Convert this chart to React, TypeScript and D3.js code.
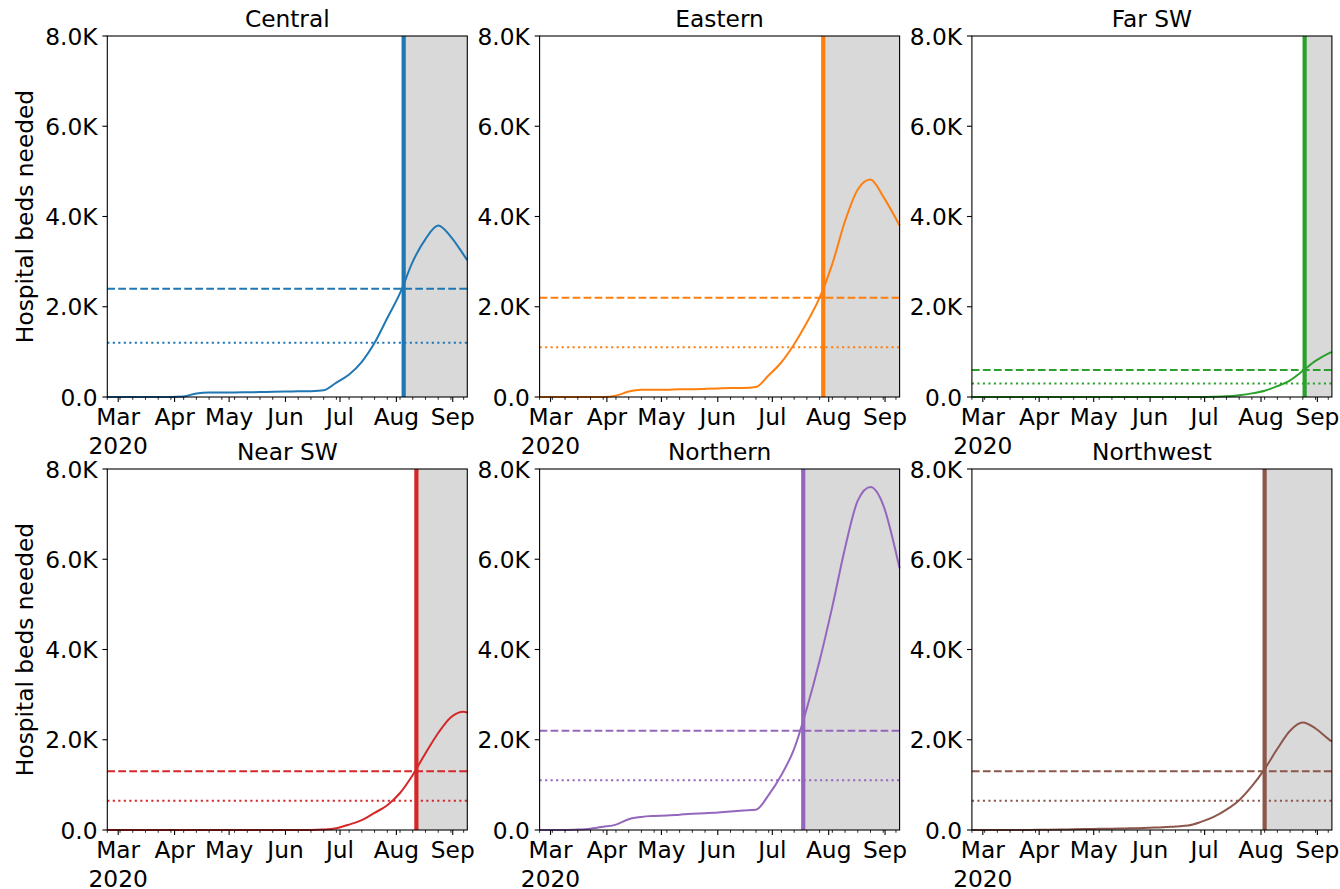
import React from 'react';
import * as d3 from 'd3';

const regions = ['Central', 'Eastern', 'Far SW', 'Near SW', 'Northern', 'Northwest'];
const colors = ['#1f77b4', '#ff7f0e', '#2ca02c', '#d62728', '#9467bd', '#8c564b'];

// weekly samples (Mondays) plus the last day of the series
const dates = [
  '2020-02-24', '2020-03-02', '2020-03-09', '2020-03-16', '2020-03-23', '2020-03-30',
  '2020-04-06', '2020-04-13', '2020-04-20', '2020-04-27', '2020-05-04', '2020-05-11',
  '2020-05-18', '2020-05-25', '2020-06-01', '2020-06-08', '2020-06-15', '2020-06-22',
  '2020-06-29', '2020-07-06', '2020-07-13', '2020-07-20', '2020-07-27', '2020-08-03',
  '2020-08-10', '2020-08-17', '2020-08-24', '2020-08-31', '2020-09-07', '2020-09-09',
];

const central = [0, 0, 0, 0, 0, 0, 10, 80, 100, 100, 100, 105, 110, 115, 120, 125, 130, 150, 320, 500, 780, 1200, 1750, 2300, 3000, 3500, 3800, 3550, 3150, 3030];
const eastern = [0, 0, 0, 0, 0, 0, 30, 120, 160, 160, 160, 170, 170, 180, 190, 200, 200, 220, 480, 770, 1170, 1650, 2200, 2950, 3900, 4600, 4820, 4440, 3950, 3800];
const farSW = [0, 0, 0, 0, 0, 0, 0, 0, 0, 0, 0, 0, 0, 0, 0, 0, 0, 0, 0, 5, 15, 40, 80, 140, 240, 370, 580, 800, 960, 1000];
const nearSW = [0, 0, 0, 0, 0, 0, 0, 0, 0, 0, 0, 0, 0, 0, 0, 0, 0, 10, 40, 120, 220, 380, 550, 820, 1220, 1700, 2150, 2500, 2620, 2600];
const northern = [0, 0, 0, 10, 30, 70, 120, 240, 290, 310, 320, 340, 360, 370, 390, 410, 430, 450, 780, 1220, 1800, 2700, 3750, 4950, 6250, 7300, 7600, 7200, 6150, 5800];
const northwest = [0, 0, 0, 0, 0, 3, 5, 10, 15, 20, 25, 30, 35, 40, 50, 60, 80, 100, 180, 290, 450, 660, 970, 1350, 1800, 2200, 2380, 2250, 2020, 1960];

const series = [central, eastern, farSW, nearSW, northern, northwest];

const capacity = [2400, 2200, 600, 1300, 2200, 1300];
const halfCapacity = [1200, 1100, 300, 650, 1100, 650];
const cutoffDates = ['2020-08-05', '2020-07-29', '2020-08-25', '2020-08-12', '2020-07-18', '2020-08-03'];

const monthTicks = ['2020-03-01', '2020-04-01', '2020-05-01', '2020-06-01', '2020-07-01', '2020-08-01', '2020-09-01'];
const monthLabels = ['Mar', 'Apr', 'May', 'Jun', 'Jul', 'Aug', 'Sep'];
const yTicks = [0, 2000, 4000, 6000, 8000];
const yTickLabels = ['0.0', '2.0K', '4.0K', '6.0K', '8.0K'];

const W = 1340;
const H = 889;
const panelW = 360;
const panelH = 361;
const lefts = [107.3, 539.6, 971.9];
const tops = [36, 469];
const FONT = "'DejaVu Sans', sans-serif";
const FS = 23.3;

const parse = d3.utcParse('%Y-%m-%d');

function Panel({ i }: { i: number }) {
  const col = i % 3;
  const row = Math.floor(i / 3);
  const x0 = lefts[col];
  const y0 = tops[row];
  const start = parse(dates[0]) as Date;
  const end = parse(dates[dates.length - 1]) as Date;

  const x = d3.scaleUtc().domain([start, end]).range([x0, x0 + panelW]);
  const y = d3.scaleLinear().domain([0, 8000]).range([y0 + panelH, y0]);

  const pts = dates.map((d, k) => [parse(d) as Date, series[i][k]] as [Date, number]);
  const line = d3.line<[Date, number]>()
    .x(d => x(d[0]))
    .y(d => y(d[1]))
    .curve(d3.curveMonotoneX);

  const color = colors[i];
  const cut = x(parse(cutoffDates[i]) as Date);
  const bottom = y0 + panelH;

  const majors = monthTicks.map(m => (parse(m) as Date).getTime());
  const minors = d3.utcMonday.range(start, d3.utcDay.offset(end, 1))
    .filter(d => !majors.includes(d.getTime()));

  return (
    <g>
      <rect x={cut} y={y0} width={x0 + panelW - cut} height={panelH} fill="#d9d9d9" />
      <path d={line(pts) || ''} fill="none" stroke={color} strokeWidth={2} />
      <line x1={x0} x2={x0 + panelW} y1={y(capacity[i])} y2={y(capacity[i])}
        stroke={color} strokeWidth={2} strokeDasharray="7.7,3.3" />
      <line x1={x0} x2={x0 + panelW} y1={y(halfCapacity[i])} y2={y(halfCapacity[i])}
        stroke={color} strokeWidth={2} strokeDasharray="2.1,3.4" />
      <line x1={cut} x2={cut} y1={y0} y2={bottom} stroke={color} strokeWidth={4.2} />
      <rect x={x0} y={y0} width={panelW} height={panelH} fill="none" stroke="#000" strokeWidth={1.1} />

      {yTicks.map((t, k) => (
        <g key={'y' + k}>
          <line x1={x0 - 4.9} x2={x0} y1={y(t)} y2={y(t)} stroke="#000" strokeWidth={1.1} />
          <text x={x0 - 9.8} y={y(t) + 8.6} textAnchor="end" fontSize={FS} fontFamily={FONT} fill="#000">
            {yTickLabels[k]}
          </text>
        </g>
      ))}

      {minors.map((d, k) => (
        <line key={'m' + k} x1={x(d)} x2={x(d)} y1={bottom} y2={bottom + 2.8} stroke="#000" strokeWidth={0.85} />
      ))}
      {monthTicks.map((m, k) => {
        const xx = x(parse(m) as Date);
        return (
          <g key={'x' + k}>
            <line x1={xx} x2={xx} y1={bottom} y2={bottom + 4.9} stroke="#000" strokeWidth={1.1} />
            <text x={xx} y={bottom + 28} textAnchor="middle" fontSize={FS} fontFamily={FONT} fill="#000">
              {monthLabels[k]}
            </text>
            {k === 0 && (
              <text x={xx} y={bottom + 56.5} textAnchor="middle" fontSize={FS} fontFamily={FONT} fill="#000">
                2020
              </text>
            )}
          </g>
        );
      })}

      <text x={x0 + panelW / 2} y={y0 - 9} textAnchor="middle" fontSize={FS} fontFamily={FONT} fill="#000">
        {regions[i]}
      </text>

      {col === 0 && (
        <text transform={`translate(33,${y0 + panelH / 2}) rotate(-90)`} textAnchor="middle"
          fontSize={FS} fontFamily={FONT} fill="#000">
          Hospital beds needed
        </text>
      )}
    </g>
  );
}

export default function App() {
  return (
    <svg width={W} height={H} style={{ position: 'absolute', left: 0, top: 0, background: '#fff' }}>
      <rect width={W} height={H} fill="#fff" />
      {regions.map((r, i) => (
        <Panel key={r} i={i} />
      ))}
    </svg>
  );
}
